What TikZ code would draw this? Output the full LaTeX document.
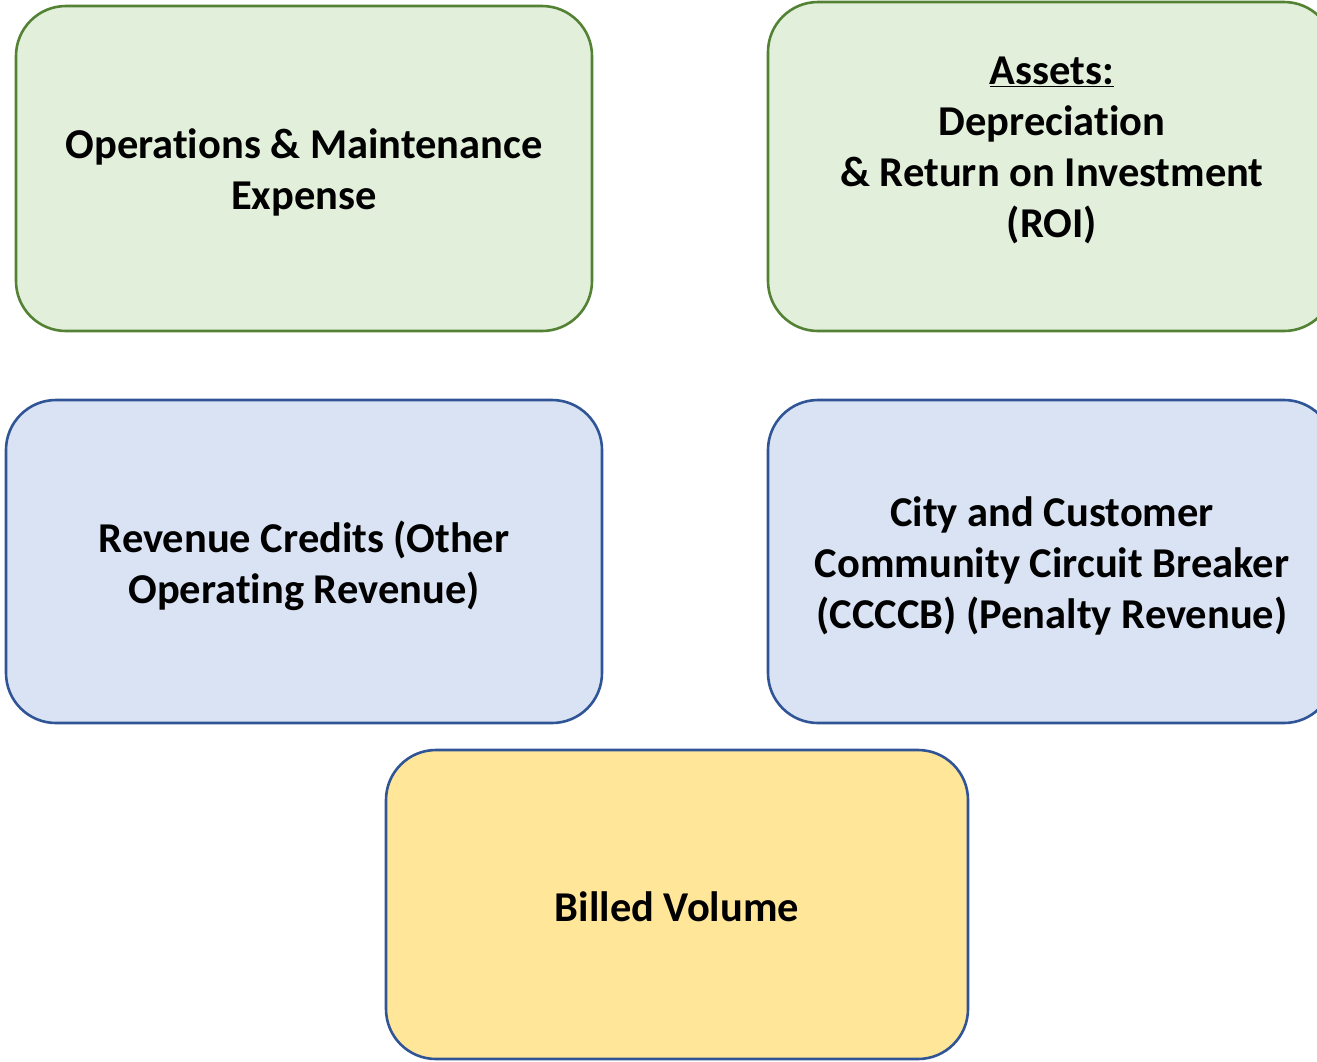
\documentclass[tikz,border=0pt]{standalone}
\usepackage{fontspec}
\setmainfont[Ligatures=NoCommon]{Carlito}
\definecolor{gfill}{HTML}{E2EFDA}
\definecolor{gline}{HTML}{548235}
\definecolor{bfill}{HTML}{DAE3F3}
\definecolor{bline}{HTML}{2F5597}
\definecolor{yfill}{HTML}{FFE699}
\tikzset{
  box/.style={rectangle, rounded corners=50pt, line width=2.6pt, inner sep=0pt},
  greenbox/.style={box, draw=gline, fill=gfill},
  bluebox/.style={box, draw=bline, fill=bfill},
  yellowbox/.style={box, draw=bline, fill=yfill},
  label/.style={align=center, inner sep=0pt, font=\fontsize{42.5}{51}\selectfont\bfseries}
}
\begin{document}
\begin{tikzpicture}[x=1pt,y=-1pt]
\useasboundingbox (0,0) rectangle (1317,1061);
\node[greenbox, minimum width=576pt, minimum height=325pt] (om) at (304,168.5) {};
\node[label] (omtext) at (304,172.5) {Operations \& Maintenance\\Expense};
\node[greenbox, minimum width=566pt, minimum height=329pt] (assets) at (1051,166.5) {};
\node[label] (assetstext) at (1052,150.5)
  {\underline{Assets:}\\Depreciation\\\& Return on Investment\\(ROI)};
\node[bluebox, minimum width=596pt, minimum height=323pt] (rc) at (304,561.5) {};
\node[label] (rctext) at (304,565.5) {Revenue Credits (Other\\Operating Revenue)};
\node[bluebox, minimum width=566pt, minimum height=323pt] (cccb) at (1051,561.5) {};
\node[label] (cccbtext) at (1052,565.5)
  {City and Customer\\Community Circuit Breaker\\(CCCCB) (Penalty Revenue)};
\node[yellowbox, minimum width=582pt, minimum height=309pt] (bv) at (677,904.5) {};
\node[label] (bvtext) at (677,906.5) {Billed Volume};
\end{tikzpicture}
\end{document}
